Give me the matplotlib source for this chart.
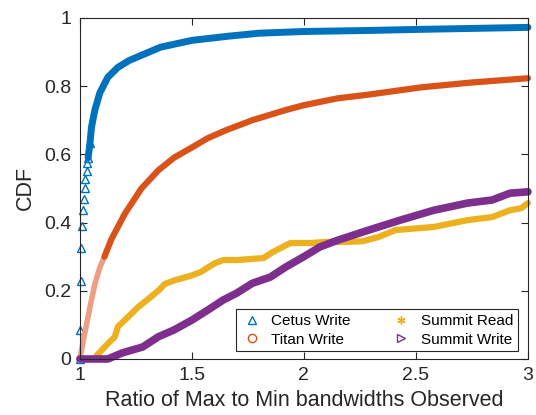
import matplotlib
matplotlib.use('Agg')
import matplotlib.pyplot as plt
from matplotlib.lines import Line2D

plt.rcParams['font.family'] = ['Liberation Sans', 'DejaVu Sans']

# valores (razao max/min -> CDF)
cetus_x = [1.0, 1.0, 1.007, 1.007, 1.01, 1.015, 1.019, 1.022, 1.025, 1.03, 1.034, 1.037,
           1.045, 1.052, 1.067, 1.089, 1.125, 1.17, 1.22, 1.36, 1.5, 1.66, 1.8, 2.0,
           2.29, 2.5, 2.75, 3.0]
cetus_y = [0.0, 0.085, 0.23, 0.325, 0.39, 0.436, 0.47, 0.5, 0.527, 0.55, 0.574, 0.59,
           0.632, 0.68, 0.73, 0.78, 0.826, 0.855, 0.875, 0.914, 0.934, 0.946, 0.955, 0.96,
           0.963, 0.966, 0.969, 0.972]

titan_x = [1.0, 1.022, 1.045, 1.067, 1.09, 1.11, 1.14, 1.2, 1.275, 1.35, 1.42, 1.5, 1.57,
           1.65, 1.77, 1.92, 2.0, 2.15, 2.3, 2.52, 2.74, 3.0]
titan_y = [0.0, 0.076, 0.152, 0.22, 0.27, 0.30, 0.35, 0.425, 0.50, 0.553, 0.59, 0.62, 0.647,
           0.67, 0.70, 0.73, 0.744, 0.764, 0.776, 0.796, 0.81, 0.823]

read_x = [1.075, 1.125, 1.156, 1.17, 1.215, 1.26, 1.30, 1.35, 1.38, 1.42, 1.50, 1.54, 1.60,
          1.64, 1.70, 1.82, 1.86, 1.94, 2.03, 2.10, 2.17, 2.26, 2.33, 2.41, 2.58, 2.73,
          2.84, 2.92, 2.97, 3.0]
read_y = [0.01, 0.045, 0.065, 0.095, 0.123, 0.152, 0.173, 0.20, 0.22, 0.23, 0.245, 0.255,
          0.28, 0.29, 0.29, 0.296, 0.313, 0.34, 0.34, 0.343, 0.343, 0.345, 0.357, 0.378,
          0.387, 0.407, 0.416, 0.436, 0.442, 0.457]

swrite_x = [1.0, 1.125, 1.19, 1.28, 1.35, 1.42, 1.50, 1.57, 1.64, 1.70, 1.77, 1.85, 1.92,
            2.0, 2.07, 2.15, 2.22, 2.29, 2.43, 2.58, 2.73, 2.84, 2.92, 3.0]
swrite_y = [0.0, 0.0, 0.018, 0.035, 0.065, 0.085, 0.114, 0.143, 0.173, 0.193, 0.222, 0.24,
            0.27, 0.30, 0.328, 0.348, 0.363, 0.378, 0.407, 0.436, 0.457, 0.466, 0.486, 0.49]

nomes = ['Cetus Write', 'Titan Write', 'Summit Read', 'Summit Write']
azul = (0.0, 0.447, 0.741)
laranja = (0.85, 0.325, 0.098)
laranja_claro = (0.93, 0.62, 0.52)
amarelo = (0.929, 0.694, 0.125)
roxo = (0.494, 0.184, 0.556)
cinza = (0.15, 0.15, 0.15)
asterisco = (6, 2, 0)

fig = plt.figure(figsize=(5.36, 4.15), dpi=100)
ax = fig.add_axes([0.149, 0.135, 0.836, 0.822])

# faixas grossas (marcadores sobrepostos no original)
ax.plot(cetus_x[11:], cetus_y[11:], color=azul, lw=5, solid_capstyle='round', clip_on=False)
ax.plot(cetus_x[:13], cetus_y[:13], ls='none', marker='^', mfc='none', mec=azul, ms=6, mew=1,
        clip_on=False)
ax.plot(titan_x[:6], titan_y[:6], color=laranja_claro, lw=4, clip_on=False)
ax.plot(titan_x[5:], titan_y[5:], color=laranja, lw=4.5, solid_capstyle='round', clip_on=False)
ax.plot(read_x, read_y, color=amarelo, lw=4.5, solid_capstyle='round', clip_on=False)
ax.plot(swrite_x, swrite_y, color=roxo, lw=5.5, solid_capstyle='round', clip_on=False)

ax.set_xlim(1, 3)
ax.set_ylim(0, 1)
ax.set_xticks([1, 1.5, 2, 2.5, 3])
ax.set_xticklabels(['1', '1.5', '2', '2.5', '3'])
ax.set_yticks([0, 0.2, 0.4, 0.6, 0.8, 1])
ax.set_yticklabels(['0', '0.2', '0.4', '0.6', '0.8', '1'])
ax.tick_params(direction='in', length=5, width=0.8, top=True, right=True,
               labelsize=14, colors=cinza, pad=6)
for s in ax.spines.values():
    s.set_color(cinza)
    s.set_linewidth(0.8)

ax.set_xlabel('Ratio of Max to Min bandwidths Observed', fontsize=15.5, color=cinza, labelpad=4)
ax.set_ylabel('CDF', fontsize=15.5, color=cinza, labelpad=6)

handles = [
    Line2D([], [], ls='none', marker='^', mfc='none', mec=azul, ms=6),
    Line2D([], [], ls='none', marker='o', mfc='none', mec=laranja, ms=6),
    Line2D([], [], ls='none', marker=asterisco, color=amarelo, ms=6, mew=1),
    Line2D([], [], ls='none', marker='>', mfc='none', mec=roxo, ms=6),
]
leg = ax.legend(handles, nomes, ncol=2, loc='lower right', bbox_to_anchor=(0.978, 0.023),
                borderaxespad=0, fontsize=11, frameon=True, fancybox=False,
                edgecolor=cinza, framealpha=1, handlelength=1.4,
                handletextpad=0.6, columnspacing=2.6, labelspacing=0.3, borderpad=0.3)
leg.get_frame().set_linewidth(0.8)
leg.set_zorder(5)

fig.savefig('out.png', dpi=100)
